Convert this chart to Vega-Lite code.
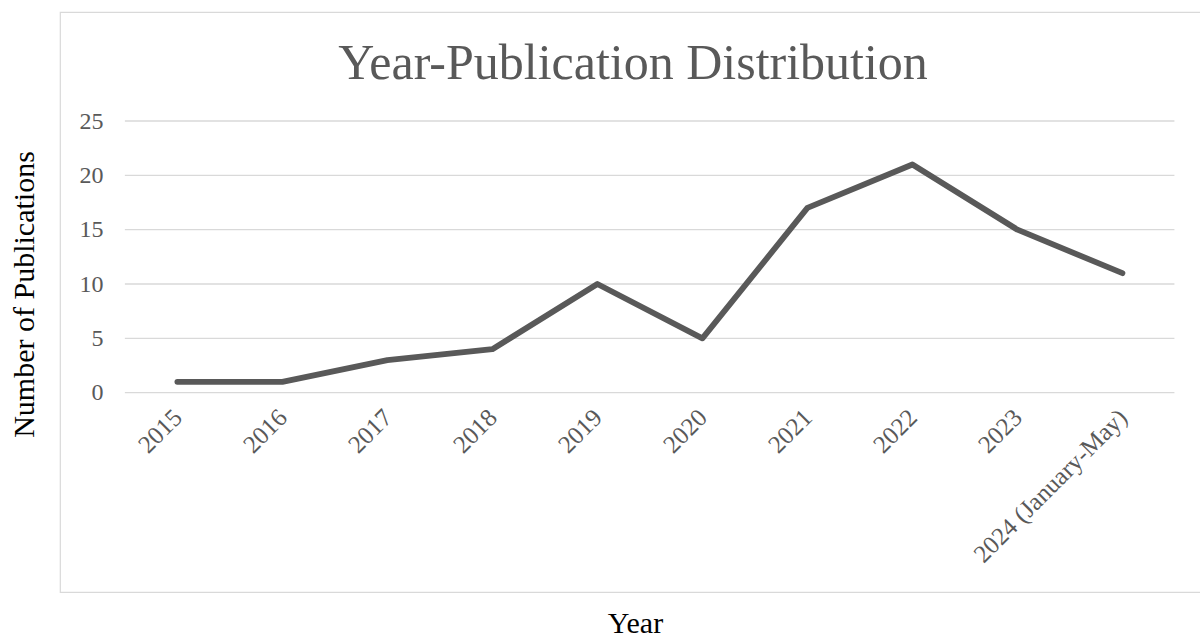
{
  "$schema": "https://vega.github.io/schema/vega-lite/v6.json",
  "width": 1141,
  "height": 580,
  "autosize": {"type": "none"},
  "padding": {"left": 60, "top": 12, "right": 0, "bottom": 47},
  "background": "white",
  "config": {
    "view": {"stroke": "#d9d9d9", "strokeWidth": 1.2},
    "font": "Liberation Serif"
  },
  "datasets": {
    "pubs": [
      {"year": "2015", "count": 1},
      {"year": "2016", "count": 1},
      {"year": "2017", "count": 3},
      {"year": "2018", "count": 4},
      {"year": "2019", "count": 10},
      {"year": "2020", "count": 5},
      {"year": "2021", "count": 17},
      {"year": "2022", "count": 21},
      {"year": "2023", "count": 15},
      {"year": "2024 (January-May)", "count": 11}
    ],
    "grid": [
      {"v": 0}, {"v": 5}, {"v": 10}, {"v": 15}, {"v": 20}, {"v": 25}
    ]
  },
  "resolve": {"axis": {"x": "independent"}},
  "layer": [
    {
      "data": {"name": "grid"},
      "mark": {"type": "rule", "color": "#d9d9d9", "strokeWidth": 1.3, "xOffset": -52.5, "x2Offset": 52},
      "encoding": {
        "y": {"field": "v", "type": "quantitative"},
        "x": {
          "datum": "2015",
          "type": "ordinal",
          "axis": {
            "orient": "top",
            "title": "Year-Publication Distribution",
            "titleFont": "Liberation Serif",
            "titleFontSize": 50,
            "titleFontWeight": "normal",
            "titleColor": "#595959",
            "titleBaseline": "alphabetic",
            "titleAlign": "center",
            "titleX": 572.5,
            "titleY": 66,
            "labels": false,
            "ticks": false,
            "domain": false,
            "grid": false
          }
        },
        "x2": {"datum": "2024 (January-May)"}
      }
    },
    {
      "data": {"name": "pubs"},
      "mark": {"type": "line", "color": "#595959", "strokeWidth": 5.8, "strokeCap": "round", "strokeJoin": "round"},
      "encoding": {
        "x": {
          "field": "year",
          "type": "ordinal",
          "sort": null,
          "scale": {
            "type": "point",
            "domain": ["2015", "2016", "2017", "2018", "2019", "2020", "2021", "2022", "2023", "2024 (January-May)"],
            "padding": 0.933,
            "align": 0.599
          },
          "axis": {
            "orient": "bottom",
            "title": "Year",
            "titleFont": "Liberation Serif",
            "titleFontSize": 30,
            "titleFontWeight": "normal",
            "titleColor": "#000000",
            "titleBaseline": "alphabetic",
            "titleAlign": "center",
            "titleX": 575,
            "titleY": 239,
            "offset": -199,
            "domain": false,
            "ticks": false,
            "grid": false,
            "labelAngle": -45,
            "labelAlign": "right",
            "labelBaseline": "middle",
            "labelPadding": 20,
            "labelFont": "Liberation Serif",
            "labelFontSize": 25,
            "labelColor": "#595959",
            "labelOverlap": false,
            "labelLimit": 400
          }
        },
        "y": {
          "field": "count",
          "type": "quantitative",
          "scale": {"domain": [-18.34, 35.03], "nice": false, "zero": false},
          "axis": {
            "title": "Number of Publications",
            "titleFont": "Liberation Serif",
            "titleFontSize": 30,
            "titleFontWeight": "normal",
            "titleColor": "#000000",
            "titleBaseline": "alphabetic",
            "titleAlign": "center",
            "titleAngle": -90,
            "titleX": -92,
            "titleY": 282,
            "offset": -65,
            "values": [0, 5, 10, 15, 20, 25],
            "domain": false,
            "ticks": false,
            "grid": false,
            "labelPadding": 22,
            "labelFont": "Liberation Serif",
            "labelFontSize": 24,
            "labelColor": "#595959"
          }
        }
      }
    }
  ]
}
